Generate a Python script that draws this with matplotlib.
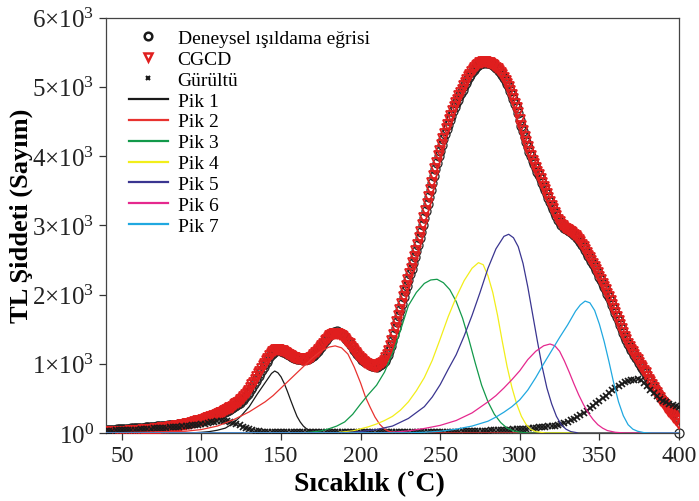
import numpy as np
import matplotlib
matplotlib.use("Agg")
import matplotlib.pyplot as plt
from matplotlib.lines import Line2D

plt.rcParams['font.family'] = ['Liberation Serif', 'DejaVu Serif']
plt.rcParams['mathtext.fontset'] = 'custom'
plt.rcParams['mathtext.rm'] = 'Liberation Serif'
plt.rcParams['mathtext.it'] = 'Liberation Serif:italic'
plt.rcParams['mathtext.bf'] = 'Liberation Serif:bold'

# ---------------- data ----------------
# experimental glow curve (1 degree steps, 40..400 C)
exp_T = np.arange(40, 401, 1)
exp_counts = [
    40, 42, 43, 45, 46, 48, 49, 51, 52, 54,
    55, 57, 58, 60, 62, 63, 65, 67, 69, 70,
    72, 74, 75, 77, 78, 80, 82, 84, 86, 88,
    90, 92, 94, 96, 98, 100, 102, 104, 107, 109,
    112, 114, 117, 119, 122, 125, 128, 131, 134, 138,
    142, 145, 149, 153, 157, 162, 166, 171, 176, 182,
    188, 194, 200, 206, 213, 220, 228, 236, 244, 253,
    262, 271, 280, 290, 300, 310, 321, 333, 345, 357,
    370, 385, 400, 418, 436, 455, 478, 503, 530, 559,
    590, 628, 668, 708, 749, 790, 830, 870, 910, 950,
    990, 1030, 1070, 1110, 1137, 1160, 1177, 1190, 1195, 1192,
    1185, 1176, 1165, 1152, 1139, 1125, 1112, 1100, 1090, 1082,
    1075, 1070, 1066, 1062, 1061, 1062, 1064, 1070, 1080, 1094,
    1110, 1130, 1155, 1180, 1210, 1240, 1275, 1308, 1340, 1370,
    1400, 1425, 1445, 1458, 1465, 1466, 1460, 1448, 1430, 1409,
    1385, 1357, 1328, 1300, 1268, 1235, 1203, 1171, 1140, 1110,
    1080, 1058, 1038, 1020, 1004, 990, 980, 972, 965, 961,
    960, 965, 975, 990, 1010, 1040, 1080, 1125, 1180, 1250,
    1330, 1420, 1510, 1600, 1690, 1780, 1870, 1960, 2050, 2130,
    2210, 2290, 2370, 2450, 2540, 2630, 2720, 2815, 2910, 3010,
    3110, 3210, 3310, 3410, 3510, 3610, 3710, 3810, 3905, 3995,
    4080, 4160, 4240, 4315, 4385, 4455, 4520, 4585, 4645, 4705,
    4760, 4815, 4865, 4915, 4960, 5005, 5050, 5095, 5135, 5175,
    5210, 5245, 5275, 5300, 5320, 5335, 5345, 5350, 5352, 5350,
    5345, 5338, 5328, 5314, 5298, 5278, 5255, 5228, 5198, 5165,
    5128, 5088, 5045, 4995, 4940, 4882, 4820, 4755, 4688, 4620,
    4520, 4440, 4360, 4280, 4200, 4130, 4060, 3995, 3935, 3880,
    3825, 3772, 3720, 3668, 3615, 3560, 3505, 3450, 3395, 3340,
    3285, 3230, 3178, 3128, 3082, 3042, 3010, 2985, 2965, 2948,
    2932, 2916, 2900, 2882, 2862, 2840, 2815, 2785, 2752, 2716,
    2680, 2642, 2602, 2562, 2522, 2482, 2442, 2400, 2355, 2305,
    2255, 2205, 2155, 2108, 2060, 2010, 1960, 1905, 1850, 1795,
    1740, 1680, 1620, 1560, 1500, 1445, 1390, 1340, 1290, 1245,
    1200, 1165, 1130, 1090, 1050, 1010, 970, 935, 900, 860,
    820, 785, 750, 715, 680, 645, 610, 575, 540, 510,
    480, 450, 420, 390, 360, 335, 310, 285, 260, 230,
    200,
]
exp_tail_T = [400]
exp_tail_counts = [0]

# CGCD fitted curve (1 degree steps, 40..400 C)
cgcd_T = np.arange(40, 401, 1)
cgcd_counts = [
    5, 6, 7, 8, 9, 10, 11, 12, 13, 14,
    15, 16, 17, 19, 20, 22, 23, 25, 27, 28,
    30, 32, 34, 36, 38, 40, 42, 44, 46, 48,
    50, 53, 56, 59, 62, 65, 68, 71, 74, 77,
    80, 84, 88, 92, 96, 100, 104, 108, 112, 116,
    120, 125, 130, 136, 142, 148, 154, 160, 166, 172,
    180, 187, 194, 202, 210, 218, 226, 234, 243, 252,
    262, 272, 283, 294, 305, 317, 329, 342, 355, 368,
    382, 398, 415, 433, 452, 473, 496, 522, 550, 580,
    612, 648, 686, 725, 765, 805, 845, 885, 925, 962,
    1000, 1038, 1075, 1110, 1140, 1165, 1183, 1195, 1200, 1198,
    1190, 1180, 1168, 1154, 1140, 1126, 1112, 1100, 1090, 1082,
    1075, 1069, 1064, 1060, 1058, 1058, 1060, 1066, 1075, 1088,
    1104, 1124, 1148, 1172, 1200, 1228, 1260, 1292, 1322, 1350,
    1376, 1398, 1416, 1428, 1434, 1434, 1428, 1418, 1402, 1382,
    1360, 1334, 1306, 1278, 1248, 1218, 1188, 1158, 1128, 1100,
    1072, 1050, 1030, 1013, 998, 985, 975, 967, 962, 960,
    960, 966, 977, 993, 1015, 1045, 1085, 1130, 1185, 1253,
    1330, 1420, 1510, 1600, 1690, 1780, 1870, 1960, 2050, 2130,
    2210, 2290, 2370, 2450, 2540, 2630, 2720, 2815, 2910, 3010,
    3110, 3210, 3310, 3410, 3510, 3610, 3710, 3810, 3905, 3995,
    4080, 4160, 4240, 4315, 4385, 4455, 4520, 4585, 4645, 4705,
    4760, 4815, 4865, 4915, 4960, 5005, 5050, 5095, 5135, 5175,
    5210, 5245, 5275, 5300, 5322, 5338, 5348, 5354, 5356, 5354,
    5348, 5340, 5330, 5316, 5298, 5278, 5255, 5228, 5198, 5165,
    5128, 5088, 5045, 4995, 4940, 4882, 4820, 4755, 4688, 4620,
    4520, 4440, 4360, 4280, 4200, 4130, 4060, 3995, 3935, 3880,
    3825, 3772, 3720, 3668, 3615, 3560, 3505, 3450, 3395, 3340,
    3285, 3230, 3178, 3128, 3082, 3042, 3010, 2985, 2965, 2948,
    2932, 2916, 2900, 2882, 2862, 2840, 2815, 2785, 2752, 2716,
    2680, 2642, 2602, 2562, 2522, 2482, 2442, 2400, 2355, 2305,
    2255, 2205, 2155, 2108, 2060, 2010, 1960, 1905, 1850, 1795,
    1740, 1680, 1620, 1560, 1500, 1445, 1390, 1340, 1290, 1245,
    1200, 1165, 1130, 1090, 1050, 1010, 970, 935, 900, 860,
    810, 770, 730, 690, 650, 612, 574, 537, 500, 465,
    430, 397, 365, 334, 304, 275, 247, 220, 194, 170,
    130,
]

# noise (2 degree steps, 40..400 C)
noise_T = np.arange(40, 401, 2)
noise_counts = [
    30, 32, 34, 36, 38, 40, 42, 44, 46, 48,
    50, 53, 56, 59, 62, 65, 68, 71, 74, 77,
    80, 84, 88, 92, 96, 100, 104, 109, 114, 119,
    125, 133, 142, 152, 162, 170, 175, 176, 173, 164,
    150, 132, 112, 92, 74, 58, 45, 35, 27, 21,
    17, 14, 12, 11, 10, 10, 10, 10, 10, 10,
    10, 10, 10, 10, 10, 10, 10, 10, 10, 10,
    10, 10, 10, 10, 10, 10, 10, 10, 10, 10,
    10, 10, 10, 10, 10, 10, 10, 10, 10, 10,
    10, 10, 10, 10, 10, 10, 11, 11, 12, 12,
    13, 13, 14, 14, 15, 15, 16, 17, 18, 19,
    20, 21, 22, 23, 24, 25, 27, 29, 31, 33,
    35, 37, 39, 41, 43, 45, 47, 49, 51, 53,
    55, 59, 63, 67, 71, 75, 80, 85, 90, 95,
    100, 108, 118, 130, 145, 162, 182, 205, 230, 258,
    288, 320, 354, 390, 427, 465, 503, 541, 578, 614,
    650, 685, 712, 733, 750, 762, 772, 774, 760, 722,
    672, 620, 574, 533, 498, 468, 442, 420, 402, 388,
    378,
]

# deconvoluted peaks
pik1_T = [40, 90, 95, 100, 105, 110, 115, 120, 125, 130, 135, 138, 141, 144, 146, 148, 150, 152, 154, 156, 158, 160, 162, 164, 166, 168, 170, 174, 180, 400]
pik1_I = [0, 0, 3, 10, 20, 40, 70, 140, 250, 380, 560, 660, 760, 860, 895, 870, 810, 715, 600, 475, 355, 240, 160, 100, 60, 35, 20, 6, 0, 0]

pik2_T = [40, 90, 100, 110, 120, 130, 140, 145, 150, 155, 160, 165, 170, 175, 180, 184, 188, 192, 196, 200, 203, 206, 209, 212, 215, 218, 222, 228, 400]
pik2_I = [0, 25, 50, 100, 190, 305, 450, 540, 650, 760, 870, 980, 1090, 1180, 1240, 1258, 1230, 1140, 950, 720, 520, 370, 230, 125, 55, 22, 6, 0, 0]

pik3_T = [40, 165, 170, 175, 180, 185, 190, 195, 200, 205, 210, 215, 220, 225, 230, 235, 240, 244, 248, 252, 256, 260, 264, 268, 272, 276, 280, 284, 288, 292, 296, 300, 306, 400]
pik3_I = [0, 5, 15, 30, 60, 100, 160, 270, 420, 560, 690, 880, 1150, 1480, 1840, 2030, 2160, 2210, 2220, 2170, 2070, 1900, 1660, 1350, 1010, 690, 450, 270, 150, 70, 30, 12, 0, 0]

pik4_T = [40, 185, 195, 200, 205, 210, 215, 220, 225, 230, 235, 240, 245, 250, 255, 260, 265, 270, 274, 277, 280, 283, 286, 289, 292, 295, 298, 301, 304, 307, 310, 316, 400]
pik4_I = [0, 5, 30, 60, 90, 130, 180, 240, 330, 450, 610, 800, 1050, 1360, 1680, 1960, 2200, 2380, 2460, 2430, 2270, 2030, 1700, 1320, 960, 660, 420, 240, 120, 50, 20, 0, 0]

pik5_T = [40, 190, 200, 210, 220, 230, 240, 245, 250, 255, 260, 265, 270, 275, 280, 285, 290, 293, 296, 299, 302, 305, 308, 311, 314, 317, 320, 323, 326, 329, 332, 337, 400]
pik5_I = [0, 5, 20, 50, 100, 210, 380, 520, 700, 920, 1130, 1400, 1700, 2030, 2380, 2660, 2840, 2870, 2820, 2690, 2450, 2110, 1720, 1330, 960, 650, 420, 240, 120, 55, 20, 0, 0]

pik6_T = [40, 210, 220, 230, 240, 250, 260, 270, 280, 285, 290, 295, 300, 305, 310, 315, 319, 322, 325, 328, 331, 334, 337, 340, 343, 346, 349, 352, 355, 360, 366, 400]
pik6_I = [0, 3, 10, 30, 65, 110, 180, 290, 450, 540, 650, 770, 900, 1060, 1180, 1260, 1285, 1260, 1180, 1040, 880, 710, 550, 410, 290, 195, 120, 70, 35, 10, 0, 0]

pik7_T = [40, 230, 240, 250, 260, 270, 280, 285, 290, 295, 300, 305, 310, 315, 320, 325, 330, 335, 338, 341, 344, 347, 350, 353, 356, 359, 362, 365, 368, 371, 374, 378, 383, 400]
pik7_I = [0, 3, 10, 25, 55, 100, 170, 230, 300, 380, 480, 620, 800, 1000, 1190, 1380, 1560, 1760, 1850, 1905, 1880, 1770, 1570, 1320, 1030, 720, 450, 250, 120, 55, 25, 5, 0, 0]

peak_labels = ["Pik 1", "Pik 2", "Pik 3", "Pik 4", "Pik 5", "Pik 6", "Pik 7"]
peak_colors = ["#1a1a1a", "#e8322f", "#12994a", "#f2ee1a", "#3a3590", "#e5288e", "#20a8e0"]

ytick_vals = [0, 1000, 2000, 3000, 4000, 5000, 6000]
ytick_text = [r"$10^{0}$", r"$1{\times}10^{3}$", r"$2{\times}10^{3}$", r"$3{\times}10^{3}$",
              r"$4{\times}10^{3}$", r"$5{\times}10^{3}$", r"$6{\times}10^{3}$"]
xtick_vals = [50, 100, 150, 200, 250, 300, 350, 400]

assert len(exp_counts) == len(exp_T)
assert len(cgcd_counts) == len(cgcd_T)
assert len(noise_counts) == len(noise_T)

# ---------------- plot ----------------
fig = plt.figure(figsize=(6.99, 5.02), dpi=100)
ax = fig.add_axes([0.1516, 0.1355, 0.8198, 0.8275])

ax.plot(exp_T, exp_counts, linestyle="none", marker="o", ms=6.5, mfc="none",
        mec="#262626", mew=0.9, zorder=2)
ax.plot(exp_tail_T, exp_tail_counts, linestyle="none", marker="o", ms=6.5, mfc="none",
        mec="#262626", mew=0.9, zorder=2, clip_on=False)
ax.plot(cgcd_T, cgcd_counts, linestyle="none", marker="v", ms=6.5, mfc="none",
        mec="#e01e1e", mew=1.3, zorder=3)
ax.plot(noise_T, noise_counts, linestyle="none", marker="x", ms=4.5,
        mec="#1a1a1a", mew=1.2, zorder=4)

peaks_T = [pik1_T, pik2_T, pik3_T, pik4_T, pik5_T, pik6_T, pik7_T]
peaks_I = [pik1_I, pik2_I, pik3_I, pik4_I, pik5_I, pik6_I, pik7_I]
for t, v, c in zip(peaks_T, peaks_I, peak_colors):
    ax.plot(t, v, color=c, lw=0.9, zorder=5)

ax.set_xlim(40, 400)
ax.set_ylim(0, 6000)
ax.set_xticks(xtick_vals)
ax.set_yticks(ytick_vals)
ax.set_yticklabels(ytick_text)
ax.tick_params(axis="both", direction="out", length=5, width=0.9, labelsize=17,
               top=False, right=False, colors="#333333", labelcolor="#222222")
ax.tick_params(axis="y", labelsize=18)
for s in ax.spines.values():
    s.set_linewidth(0.9)
    s.set_color("#444444")

ax.set_xlabel("Sıcaklık (˚C)", fontsize=20, fontweight="bold")
ax.set_ylabel("TL Şiddeti (Sayım)", fontsize=19, fontweight="bold")
ax.xaxis.set_label_coords(0.46, -0.088)
ax.yaxis.set_label_coords(-0.128, 0.526)

handles = [
    Line2D([], [], linestyle="none", marker="o", ms=5.5, mfc="none", mec="#1a1a1a", mew=1.8),
    Line2D([], [], linestyle="none", marker="v", ms=5.5, mfc="none", mec="#e01e1e", mew=1.8),
    Line2D([], [], linestyle="none", marker="x", ms=3.5, mec="#1a1a1a", mew=1.5),
]
labels = ["Deneysel ışıldama eğrisi", "CGCD", "Gürültü"]
for c, l in zip(peak_colors, peak_labels):
    handles.append(Line2D([], [], color=c, lw=1.6))
    labels.append(l)
ax.legend(handles, labels, loc="upper left", bbox_to_anchor=(0.040, 0.972),
          frameon=False, fontsize=14, handlelength=2.0, handletextpad=0.5,
          labelspacing=0.17, borderpad=0, borderaxespad=0)

fig.savefig("out.png", dpi=100)
